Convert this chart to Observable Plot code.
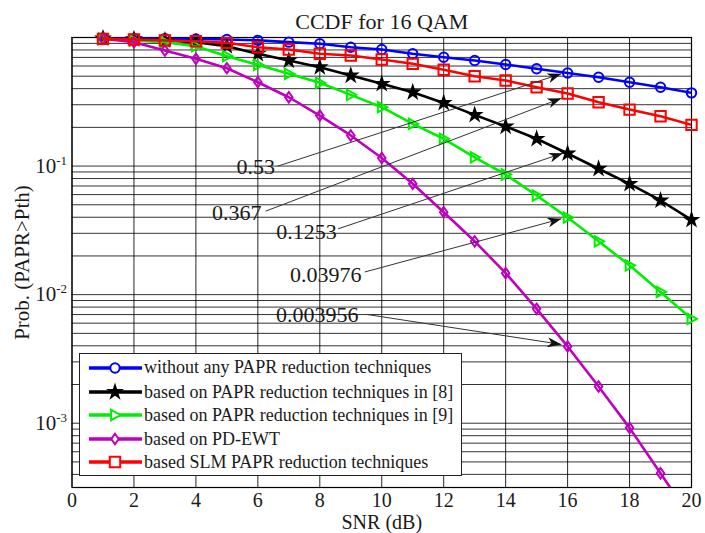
<!DOCTYPE html>
<html><head><meta charset="utf-8">
<script src="https://cdn.jsdelivr.net/npm/d3@7"></script>
<script src="https://cdn.jsdelivr.net/npm/@observablehq/plot@0.6"></script>
<style>
body{margin:0;background:#fff;}
#wrap{position:relative;width:705px;height:533px;font-family:"Liberation Serif","Times New Roman",serif;}
#legend{position:absolute;left:79px;top:353px;width:383px;height:123px;border:1px solid #222;background:#fff;box-sizing:border-box;}
.row{position:absolute;left:0;height:22px;display:flex;align-items:center;font-size:18px;color:#1a1a1a;white-space:nowrap;}
.row svg{display:block;margin-left:9px;margin-right:2px;}
</style></head><body><div id="wrap"></div>
<script>
// ---- data ----
const snr = [1,2,3,4,5,6,7,8,9,10,11,12,13,14,15,16,17,18,19,20];
const noReduction = [0.99,0.985,0.98,0.975,0.965,0.95,0.92,0.893,0.84,0.806,0.747,0.703,0.662,0.617,0.571,0.53,0.491,0.449,0.41,0.371];
const ref8 = [0.985,0.97,0.95,0.92,0.856,0.747,0.662,0.588,0.506,0.436,0.375,0.31,0.25,0.203,0.163,0.1253,0.0953,0.0728,0.054,0.0382];
const ref9 = [0.98,0.948,0.919,0.856,0.716,0.613,0.522,0.444,0.358,0.287,0.213,0.163,0.117,0.086,0.059,0.03976,0.026,0.0169,0.0105,0.00649];
const pdEwt = [0.977,0.919,0.792,0.683,0.577,0.449,0.343,0.247,0.173,0.1155,0.0728,0.0438,0.026,0.0147,0.00776,0.003956,0.00193,0.00092,0.000408,0.00018];
const slm = [0.975,0.965,0.948,0.936,0.909,0.84,0.806,0.747,0.724,0.674,0.624,0.561,0.50,0.463,0.41,0.367,0.314,0.275,0.244,0.209];

const seriesNames = [
  "without any PAPR reduction techniques",
  "based on PAPR reduction techniques in [8]",
  "based on PAPR reduction techniques in [9]",
  "based on PD-EWT",
  "based SLM PAPR reduction techniques"
];
const seriesColors = ["#0000ff","#000000","#00ee00","#bf00bf","#ff0000"];

const xTicks = [0,2,4,6,8,10,12,14,16,18,20];
const yTicks = [1e-3,1e-2,1e-1];
const yDomain = [Math.pow(10,-3.5), 1];

const annotText = ["0.53","0.367","0.1253","0.03976","0.003956"];
const annotX = [5.93,5.32,7.57,8.19,7.92];
const annotY = [0.0993,0.0433,0.031,0.01426,0.00701];
const arrowX1 = [6.64,6.25,8.59,9.45,9.51];
const arrowY1 = [0.0998,0.0446,0.0325,0.015,0.00702];
const arrowX2 = [15.8,15.8,15.85,15.8,15.8];
const arrowY2 = [0.522,0.337,0.126,0.0389,0.0041];

// ---- symbols ----
const symCircle = {draw(c,s){const r=Math.sqrt(s/Math.PI); c.moveTo(r,0); c.arc(0,0,r,0,2*Math.PI);}};
const symStar = d3.symbolStar;
const symTri = {draw(c,s){const r=Math.sqrt(s/Math.PI); c.moveTo(r*1.05,0); c.lineTo(-r*0.75,-r); c.lineTo(-r*0.75,r); c.closePath();}};
const symDiamond = {draw(c,s){const r=Math.sqrt(s/Math.PI); c.moveTo(0,-r); c.lineTo(r*0.72,0); c.lineTo(0,r); c.lineTo(-r*0.72,0); c.closePath();}};
const symSquare = {draw(c,s){const r=Math.sqrt(s/Math.PI); c.rect(-r,-r,2*r,2*r);}};

const seriesVals = [noReduction, ref8, ref9, pdEwt, slm];
const seriesSym = [symCircle, symStar, symTri, symDiamond, symSquare];
const seriesR = [4.7, 3.7, 5.2, 5.2, 5.2];
const seriesFill = ["none","#000","none","none","none"];

const yGrid = [];
for (let e = -4; e <= 0; e++) for (let m = 1; m <= 9; m++) {
  const v = m * Math.pow(10, e);
  if (v >= yDomain[0] * 0.999 && v <= 1.0001) yGrid.push(v);
}

const marks = [
  Plot.ruleY(yGrid, {stroke:"#000", strokeOpacity:0.8, strokeWidth:1}),
  Plot.ruleX(xTicks, {stroke:"#000", strokeOpacity:0.85, strokeWidth:1}),
  Plot.frame({stroke:"#000", strokeWidth:1.2})
];
seriesVals.forEach((vals, i) => {
  const rows = snr.map((x, j) => ({x, y: vals[j]}));
  marks.push(Plot.line(rows, {x:"x", y:"y", stroke: seriesColors[i], strokeWidth: 2.6, clip: true}));
  marks.push(Plot.dot(rows.filter(d => d.y >= yDomain[0]), {x:"x", y:"y", symbol: seriesSym[i], r: seriesR[i],
    stroke: seriesColors[i], strokeWidth: 2, fill: seriesFill[i]}));
});
const arrows = annotText.map((t,i) => ({x1: arrowX1[i], y1: arrowY1[i], x2: arrowX2[i], y2: arrowY2[i]}));
const labels = annotText.map((t,i) => ({x: annotX[i], y: annotY[i], t}));
marks.push(Plot.link(arrows, {x1:"x1", y1:"y1", x2:"x2", y2:"y2", stroke:"#333", strokeWidth:1}));
marks.push(Plot.text(labels, {x:"x", y:"y", text:"t", fontSize: 22, fill:"#1a1a1a", textAnchor:"middle"}));
marks.push(Plot.axisX({ticks: xTicks, tickSize: 0, tickPadding: 5, fontSize: 20, label: null, tickFormat: d => String(d)}));
marks.push(Plot.axisY({ticks: yTicks, tickSize: 0, tickPadding: 5, fontSize: 21, label: null,
  tickFormat: d => "10^" + Math.round(Math.log10(d))}));
marks.push(Plot.text(["CCDF for 16 QAM"], {frameAnchor:"top", lineAnchor:"middle", dy:-16, fontSize: 22, fill:"#1a1a1a"}));
marks.push(Plot.text(["SNR (dB)"], {frameAnchor:"bottom", lineAnchor:"middle", dy:35.5, fontSize: 20, fill:"#1a1a1a"}));
marks.push(Plot.text(["Prob. (PAPR>Pth)"], {frameAnchor:"left", textAnchor:"middle", lineAnchor:"middle", dx:-50, rotate:-90, fontSize: 21, fill:"#1a1a1a"}));

const svg = Plot.plot({
  width: 705, height: 533,
  marginLeft: 71.5, marginRight: 14, marginTop: 37, marginBottom: 46,
  style: {fontFamily: '"Liberation Serif","Times New Roman",serif', color: "#1a1a1a", background: "#fff", overflow: "visible"},
  x: {domain: [0, 20]},
  y: {type: "log", domain: yDomain},
  marks
});

// superscript exponents on y tick labels
d3.select(svg).selectAll("text").each(function() {
  const m = /^10\^(-?\d+)$/.exec(this.textContent);
  if (m) {
    const t = d3.select(this);
    t.text("");
    t.append("tspan").text("10");
    t.append("tspan").attr("dy", "-8").attr("font-size", "13").text(m[1]);
  }
});
// arrowheads
const defs = d3.select(svg).insert("defs", ":first-child");
defs.append("marker").attr("id","ah").attr("viewBox","0 0 14 10").attr("refX",14).attr("refY",5)
  .attr("markerWidth",14).attr("markerHeight",10).attr("markerUnits","userSpaceOnUse").attr("orient","auto")
  .append("path").attr("d","M0,0 L14,5 L0,10 L4,5 Z").attr("fill","#111");
d3.select(svg).selectAll('g[aria-label="link"] path').attr("marker-end","url(#ah)");

const wrap = document.getElementById("wrap");
wrap.appendChild(svg);

// legend
const legend = document.createElement("div");
legend.id = "legend";
const rowCenters = [13.7, 38, 61.3, 85.3, 108];
seriesNames.forEach((name, i) => {
  const row = document.createElement("div");
  row.className = "row";
  row.style.top = (rowCenters[i] - 11) + "px";
  const p = d3.path();
  seriesSym[i].draw(p, Math.PI * seriesR[i] * seriesR[i]);
  row.innerHTML = `<svg width="53" height="22"><line x1="0" x2="53" y1="11" y2="11" stroke="${seriesColors[i]}" stroke-width="3.5"/>` +
    `<path transform="translate(26,11)" d="${p.toString()}" stroke="${seriesColors[i]}" stroke-width="2" fill="${i===1?'#000':'#fff'}"/></svg>` +
    `<span>${name}</span>`;
  legend.appendChild(row);
});
wrap.appendChild(legend);
</script></body></html>
